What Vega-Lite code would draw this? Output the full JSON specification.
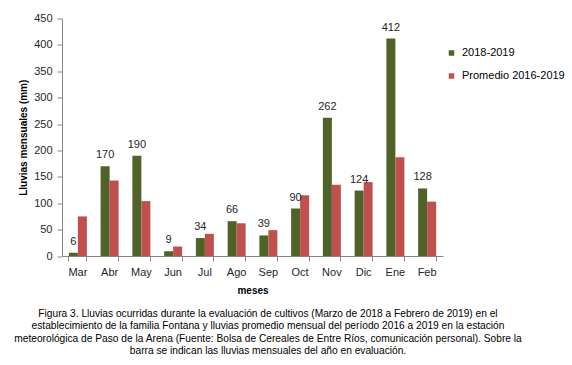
{
  "$schema": "https://vega.github.io/schema/vega-lite/v6.json",
  "autosize": {"type": "none"},
  "padding": {"left": 62, "top": 18.5, "right": 129, "bottom": 109},
  "width": 381,
  "height": 237.5,
  "background": "white",
  "config": {
    "view": {"stroke": null},
    "font": "Liberation Sans"
  },
  "title": {
    "text": [
      "Figura 3. Lluvias ocurridas durante la evaluación de cultivos (Marzo de 2018 a Febrero de 2019) en el",
      "establecimiento de la familia Fontana y lluvias promedio mensual del período 2016 a 2019 en la estación",
      "meteorológica de Paso de la Arena (Fuente: Bolsa de Cereales de Entre Ríos, comunicación personal). Sobre la",
      "barra se indican las lluvias mensuales del año en evaluación."
    ],
    "orient": "bottom",
    "anchor": "middle",
    "frame": "group",
    "dx": 15.5,
    "offset": 14,
    "font": "Liberation Sans",
    "fontSize": 10.2,
    "fontWeight": "normal",
    "lineHeight": 12.4,
    "color": "#000000"
  },
  "data": {
    "values": [
      {"mes": "Mar", "serie": "2018-2019", "valor": 6},
      {"mes": "Abr", "serie": "2018-2019", "valor": 170},
      {"mes": "May", "serie": "2018-2019", "valor": 190},
      {"mes": "Jun", "serie": "2018-2019", "valor": 9},
      {"mes": "Jul", "serie": "2018-2019", "valor": 34},
      {"mes": "Ago", "serie": "2018-2019", "valor": 66},
      {"mes": "Sep", "serie": "2018-2019", "valor": 39},
      {"mes": "Oct", "serie": "2018-2019", "valor": 90},
      {"mes": "Nov", "serie": "2018-2019", "valor": 262},
      {"mes": "Dic", "serie": "2018-2019", "valor": 124},
      {"mes": "Ene", "serie": "2018-2019", "valor": 412},
      {"mes": "Feb", "serie": "2018-2019", "valor": 128},
      {"mes": "Mar", "serie": "Promedio 2016-2019", "valor": 75},
      {"mes": "Abr", "serie": "Promedio 2016-2019", "valor": 143},
      {"mes": "May", "serie": "Promedio 2016-2019", "valor": 104},
      {"mes": "Jun", "serie": "Promedio 2016-2019", "valor": 18},
      {"mes": "Jul", "serie": "Promedio 2016-2019", "valor": 42},
      {"mes": "Ago", "serie": "Promedio 2016-2019", "valor": 62},
      {"mes": "Sep", "serie": "Promedio 2016-2019", "valor": 49},
      {"mes": "Oct", "serie": "Promedio 2016-2019", "valor": 115},
      {"mes": "Nov", "serie": "Promedio 2016-2019", "valor": 135},
      {"mes": "Dic", "serie": "Promedio 2016-2019", "valor": 140},
      {"mes": "Ene", "serie": "Promedio 2016-2019", "valor": 187},
      {"mes": "Feb", "serie": "Promedio 2016-2019", "valor": 103}
    ]
  },
  "encoding": {
    "x": {
      "field": "mes",
      "type": "nominal",
      "sort": ["Mar", "Abr", "May", "Jun", "Jul", "Ago", "Sep", "Oct", "Nov", "Dic", "Ene", "Feb"],
      "scale": {"paddingInner": 0.433, "paddingOuter": 0.2165},
      "axis": {
        "title": "meses",
        "titleFont": "Liberation Sans",
        "titleFontSize": 10,
        "titleFontWeight": "bold",
        "titleColor": "#000000",
        "titlePadding": 8,
        "labelAngle": 0,
        "labelFont": "Liberation Sans",
        "labelFontSize": 11,
        "labelColor": "#262626",
        "labelPadding": 5,
        "bandPosition": 1,
        "tickExtra": true,
        "tickSize": 5,
        "tickColor": "#868686",
        "domainColor": "#868686",
        "grid": false
      }
    },
    "xOffset": {
      "field": "serie",
      "type": "nominal",
      "scale": {"domain": ["2018-2019", "Promedio 2016-2019"]}
    },
    "y": {
      "field": "valor",
      "type": "quantitative",
      "scale": {"domain": [0, 450], "nice": false},
      "axis": {
        "title": "Lluvias mensuales (mm)",
        "titleFont": "Liberation Sans",
        "titleFontSize": 10,
        "titleFontWeight": "bold",
        "titleColor": "#000000",
        "titlePadding": 5,
        "values": [0, 50, 100, 150, 200, 250, 300, 350, 400, 450],
        "labelFont": "Liberation Sans",
        "labelFontSize": 11,
        "labelColor": "#262626",
        "labelPadding": 5,
        "tickSize": 5,
        "tickColor": "#868686",
        "domainColor": "#868686",
        "grid": false
      }
    }
  },
  "layer": [
    {
      "mark": {"type": "bar"},
      "encoding": {
        "color": {
          "field": "serie",
          "type": "nominal",
          "scale": {"domain": ["2018-2019", "Promedio 2016-2019"], "range": ["#4F6228", "#C0504D"]},
          "legend": {
            "title": null,
            "orient": "none",
            "legendX": 384,
            "legendY": 29,
            "symbolType": "square",
            "symbolSize": 30,
            "symbolStrokeWidth": 0,
            "labelFont": "Liberation Sans",
            "labelFontSize": 11,
            "labelColor": "#000000",
            "labelOffset": 5,
            "rowPadding": 11
          }
        }
      }
    },
    {
      "transform": [{"filter": "datum.serie == '2018-2019'"}],
      "mark": {"type": "text", "baseline": "bottom", "dy": -6, "font": "Liberation Sans", "fontSize": 11, "color": "#262626"},
      "encoding": {
        "text": {"field": "valor", "type": "quantitative"}
      }
    }
  ]
}
